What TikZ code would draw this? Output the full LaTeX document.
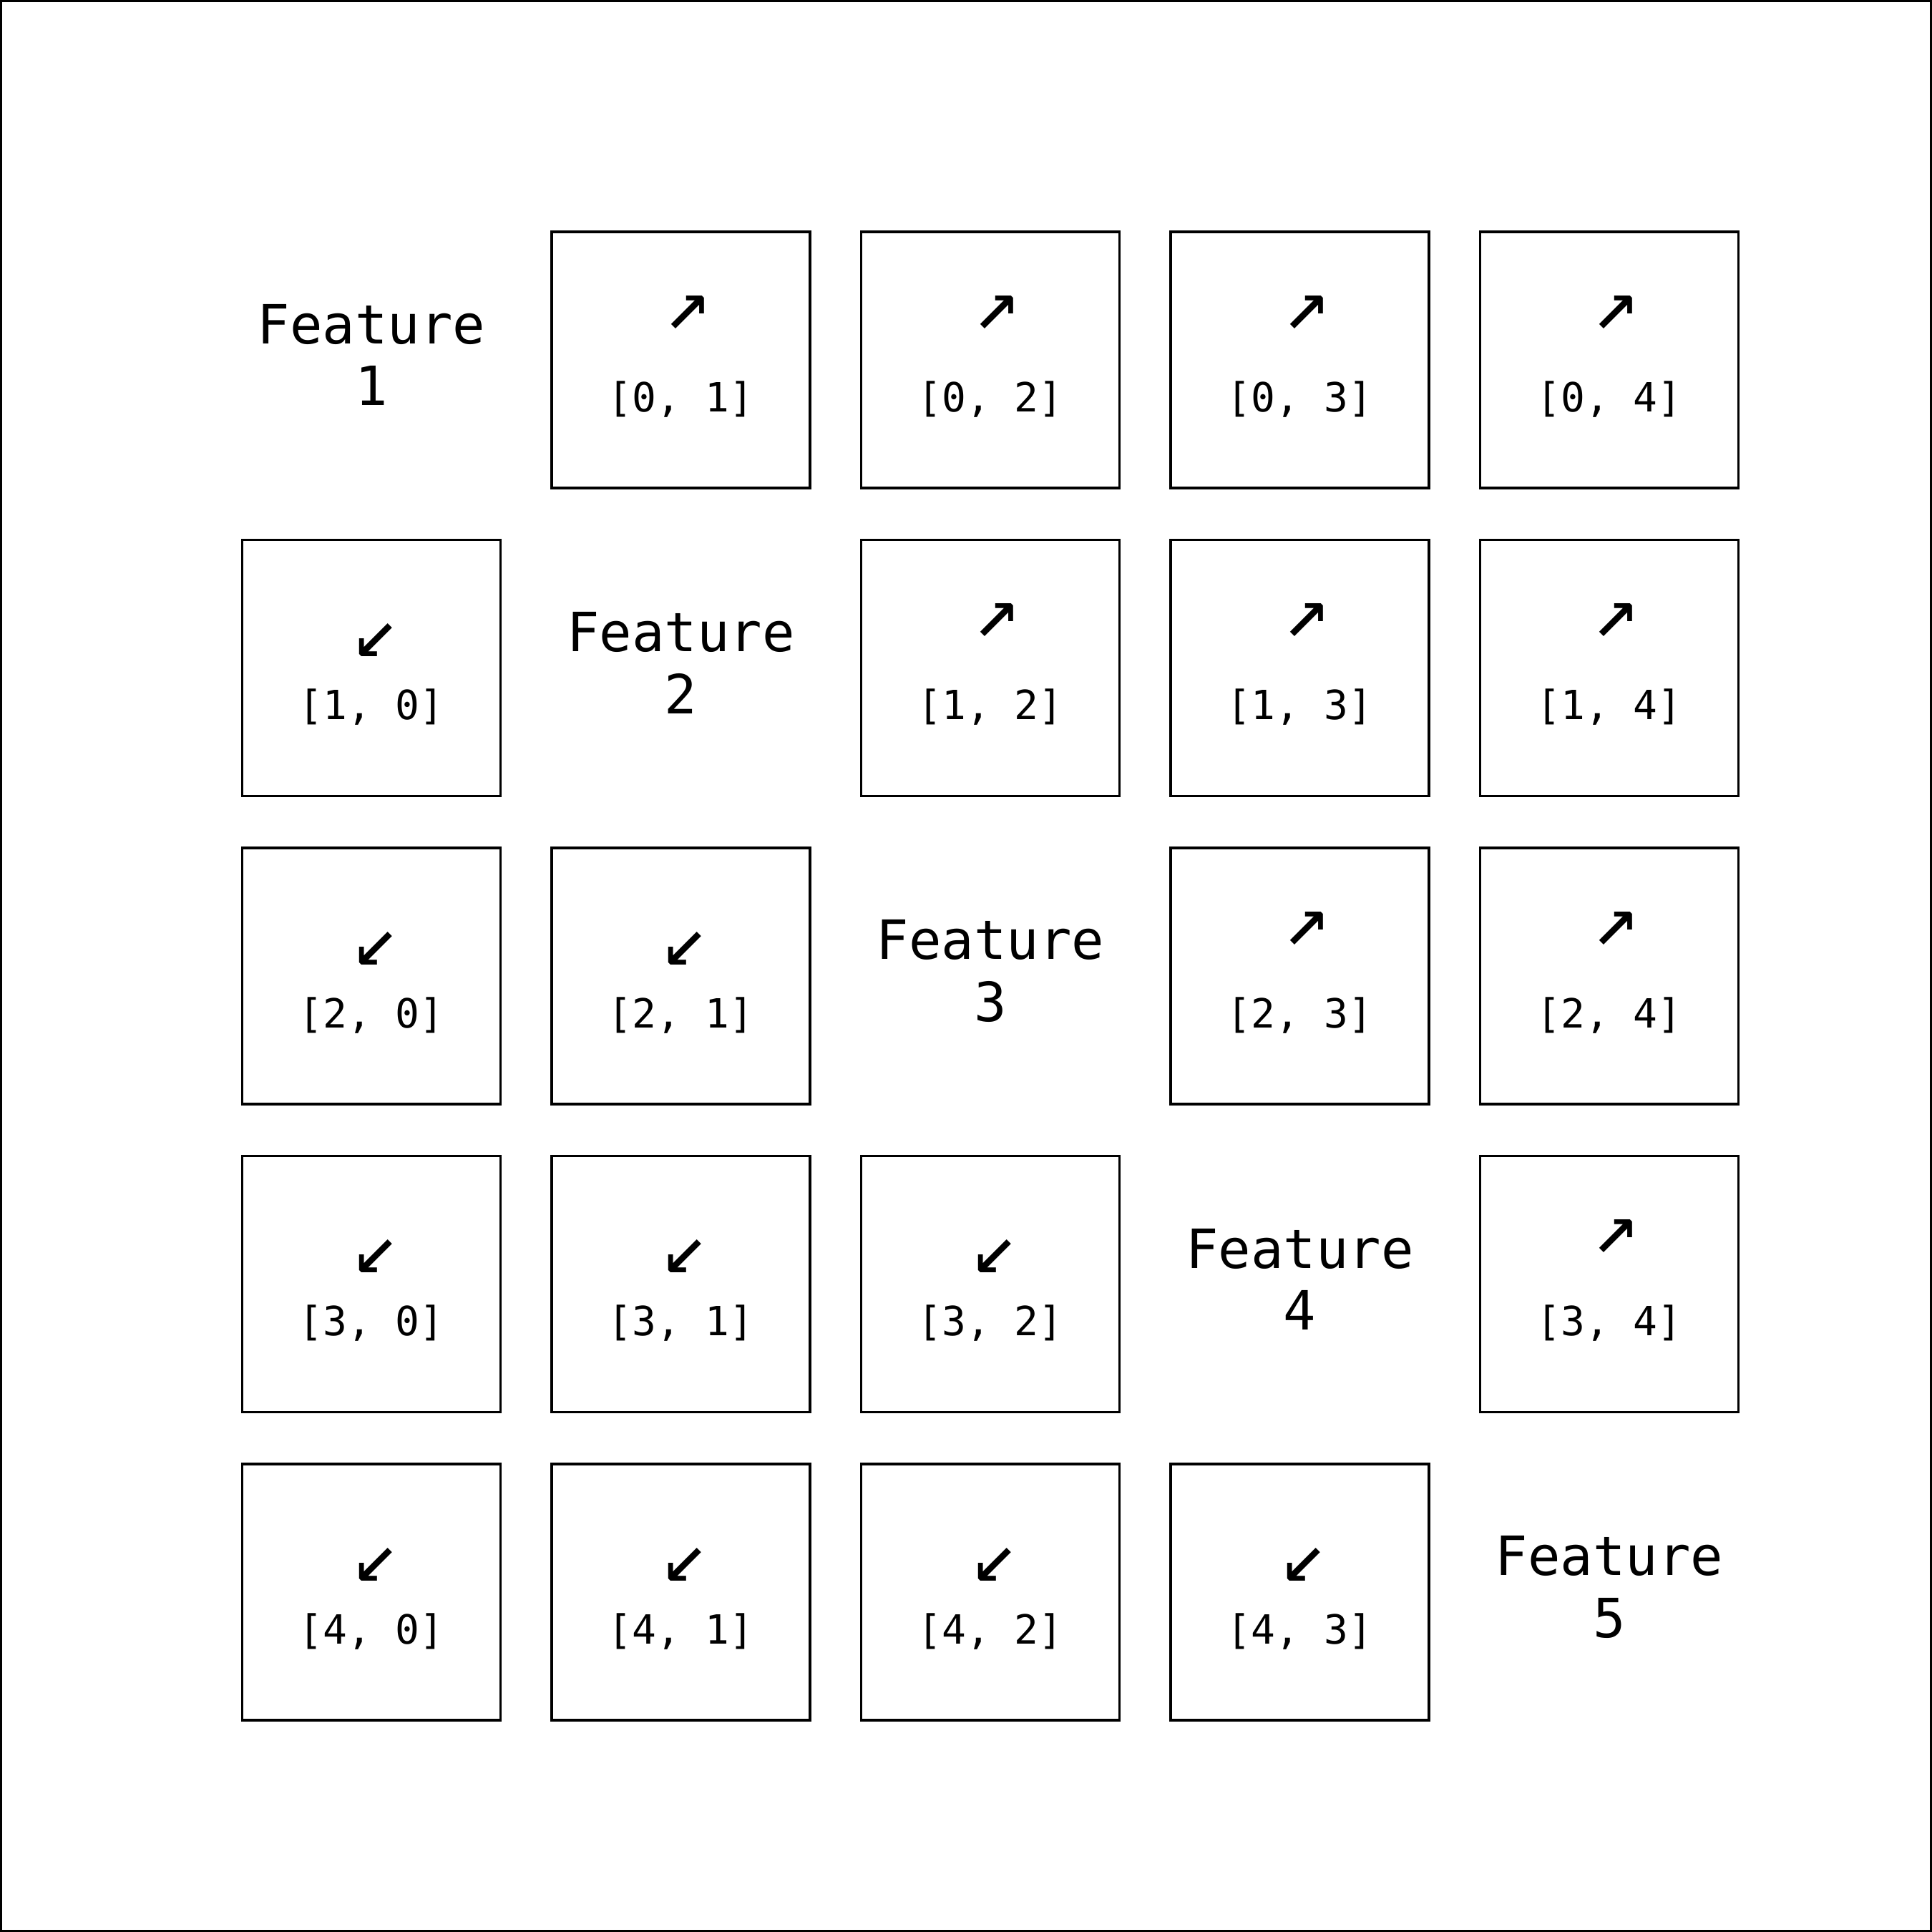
\documentclass[tikz,border=0pt]{standalone}
\usepackage{fontspec}
\setmonofont{DejaVu Sans Mono}
\begin{document}
\begin{tikzpicture}[
  cell/.style={draw,line width=1.1pt,minimum width=3.61cm,minimum height=3.58cm,inner sep=0pt},
  idx/.style={font=\ttfamily\fontsize{16}{19}\selectfont,inner sep=0pt},
  dir/.style={font=\ttfamily\fontsize{31}{34}\selectfont,inner sep=0pt},
  feat/.style={font=\ttfamily\fontsize{21.5}{24.5}\selectfont,align=center,inner sep=0pt}]
\useasboundingbox (0,0) rectangle (27,-27);
\draw[line width=0.85pt] (0.015,-0.015) rectangle (26.985,-26.985);
% grid of pairs, features on the diagonal
\foreach \r in {0,...,4}{
  \foreach \c in {0,...,4}{
    \pgfmathsetmacro{\x}{5.19+4.325*\c}
    \pgfmathsetmacro{\y}{-5.03-4.305*\r}
    \ifnum\r=\c
      \pgfmathtruncatemacro{\n}{\r+1}
      \node[feat] (feat\r) at (\x,\y+0.07) {Feature\\\n};
    \else
      \node[cell] (cell\r\c) at (\x,\y) {};
      \ifnum\c>\r
        \node[dir] (dir\r\c) at (\x+0.095,\y+0.67) {↗};
      \else
        \node[dir] (dir\r\c) at (\x+0.06,\y+0.39) {↙};
      \fi
      \node[idx] (idx\r\c) at (\x,\y-0.55) {[\r, \c]};
    \fi
  }
}
\end{tikzpicture}
\end{document}
